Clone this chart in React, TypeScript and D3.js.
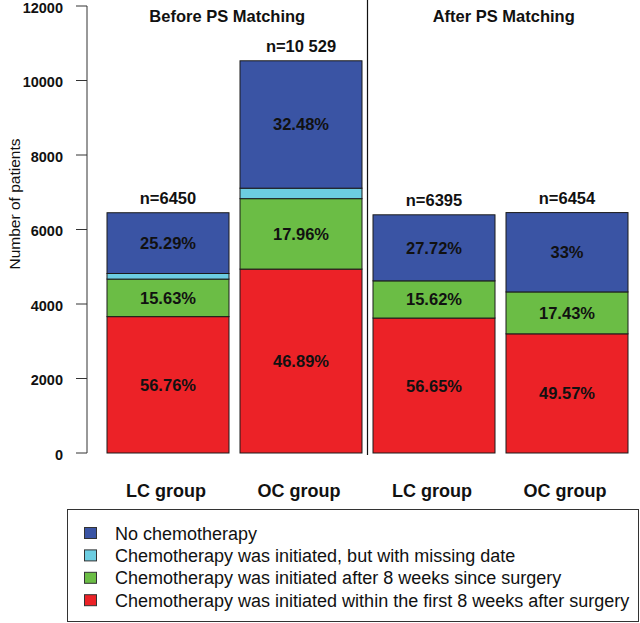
import React from "react";
import * as d3 from "d3";

const groups = ["LC group", "OC group", "LC group", "OC group"];
const totals = [6450, 10529, 6395, 6454];
const totalLabels = ["n=6450", "n=10 529", "n=6395", "n=6454"];
const pctWithin8 = [56.76, 46.89, 56.65, 49.57];
const pctAfter8 = [15.63, 17.96, 15.62, 17.43];
const pctMissing = [2.32, 2.67, 0, 0];
const pctNone = [25.29, 32.48, 27.72, 33];
const yTicks = [0, 2000, 4000, 6000, 8000, 10000, 12000];
const panelTitles = ["Before PS Matching", "After PS Matching"];

const seriesKeys = ["within8", "after8", "missing", "none"];
const seriesNames = [
  "Chemotherapy was initiated within the first 8 weeks after surgery",
  "Chemotherapy was initiated after 8 weeks since surgery",
  "Chemotherapy was initiated, but with missing date",
  "No chemotherapy",
];
const seriesColors = ["#EC2227", "#6BBD45", "#6CCDE1", "#3A54A4"];
const seriesPct = [pctWithin8, pctAfter8, pctMissing, pctNone];
const showLabel = [true, true, false, true];

const W = 640;
const H = 623;
const FONT = "'Liberation Sans', Arial, Helvetica, sans-serif";

export default function App() {
  const ids = groups.map((_, i) => String(i));
  const rows = groups.map((g, i) => {
    const r: any = { id: String(i) };
    seriesKeys.forEach((k, s) => {
      r[k] = (totals[i] * seriesPct[s][i]) / 100;
    });
    return r;
  });
  const stacked = d3.stack<any>().keys(seriesKeys)(rows);

  const x = d3
    .scaleBand<string>()
    .domain(ids)
    .range([101.5, 633.5])
    .paddingInner(11 / 133)
    .paddingOuter(11 / 266);
  const y = d3.scaleLinear().domain([0, 12000]).range([453, 6]);

  const axisX = 87;
  const dividerX = (x("1")! + x.bandwidth() + x("2")!) / 2;
  const titleXs = [(axisX + dividerX) / 2, (dividerX + W) / 2];

  const legendRows = [3, 2, 1, 0];

  return (
    <svg
      width={W}
      height={H}
      style={{ position: "absolute", left: 0, top: 0, background: "#fff" }}
      fontFamily={FONT}
    >
      {/* Bars */}
      {stacked.map((layer, s) =>
        layer.map((d, i) => {
          const h = y(d[0]) - y(d[1]);
          if (h <= 0) return null;
          return (
            <rect
              key={`${s}-${i}`}
              x={x(ids[i])!}
              y={y(d[1])}
              width={x.bandwidth()}
              height={h}
              fill={seriesColors[s]}
              stroke="#1a1a1a"
              strokeWidth={1}
            />
          );
        })
      )}
      {/* Percent labels */}
      {stacked.map((layer, s) =>
        showLabel[s]
          ? layer.map((d, i) => (
              <text
                key={`l${s}-${i}`}
                x={x(ids[i])! + x.bandwidth() / 2}
                y={(y(d[0]) + y(d[1])) / 2 + 6}
                textAnchor="middle"
                fontSize={16.5}
                fontWeight="bold"
                fill="#111"
              >
                {`${seriesPct[s][i]}%`}
              </text>
            ))
          : null
      )}
      {/* n labels */}
      {totals.map((t, i) => (
        <text
          key={`n${i}`}
          x={x(ids[i])! + x.bandwidth() / 2}
          y={y(t) - 9}
          textAnchor="middle"
          fontSize={16.5}
          fontWeight="bold"
          fill="#111"
        >
          {totalLabels[i]}
        </text>
      ))}
      {/* Divider */}
      <line x1={dividerX} x2={dividerX} y1={0} y2={455} stroke="#111" strokeWidth={1.2} />
      {/* Panel titles */}
      {panelTitles.map((t, i) => (
        <text
          key={t}
          x={titleXs[i]}
          y={22}
          textAnchor="middle"
          fontSize={16.5}
          fontWeight="bold"
          fill="#111"
        >
          {t}
        </text>
      ))}
      {/* Y axis */}
      <line x1={axisX} x2={axisX} y1={y(12000)} y2={y(0)} stroke="#333" strokeWidth={1} />
      {yTicks.map((t) => (
        <g key={t}>
          <line x1={axisX - 11} x2={axisX} y1={y(t)} y2={y(t)} stroke="#333" strokeWidth={1} />
          <text
            x={63}
            y={y(t) + 6.5}
            textAnchor="end"
            fontSize={14.5}
            fontWeight="bold"
            fill="#111"
          >
            {t}
          </text>
        </g>
      ))}
      <text
        transform={`translate(19.5, 204) rotate(-90)`}
        textAnchor="middle"
        fontSize={15.5}
        fill="#111"
      >
        Number of patients
      </text>
      {/* X labels */}
      {groups.map((g, i) => (
        <text
          key={`x${i}`}
          x={x(ids[i])! + x.bandwidth() / 2 - 2}
          y={497}
          textAnchor="middle"
          fontSize={18}
          fontWeight="bold"
          fill="#111"
        >
          {g}
        </text>
      ))}
      {/* Legend */}
      <rect x={67.5} y={509.5} width={571} height={112} fill="none" stroke="#333" strokeWidth={1} />
      {legendRows.map((s, r) => {
        const cy = 533 + r * 22.4;
        return (
          <g key={`lg${s}`}>
            <rect
              x={84.5}
              y={cy - 5.5}
              width={12}
              height={11}
              fill={seriesColors[s]}
              stroke="#333"
              strokeWidth={1}
            />
            <text x={115} y={cy + 6.5} fontSize={18} fill="#111">
              {seriesNames[s]}
            </text>
          </g>
        );
      })}
    </svg>
  );
}
